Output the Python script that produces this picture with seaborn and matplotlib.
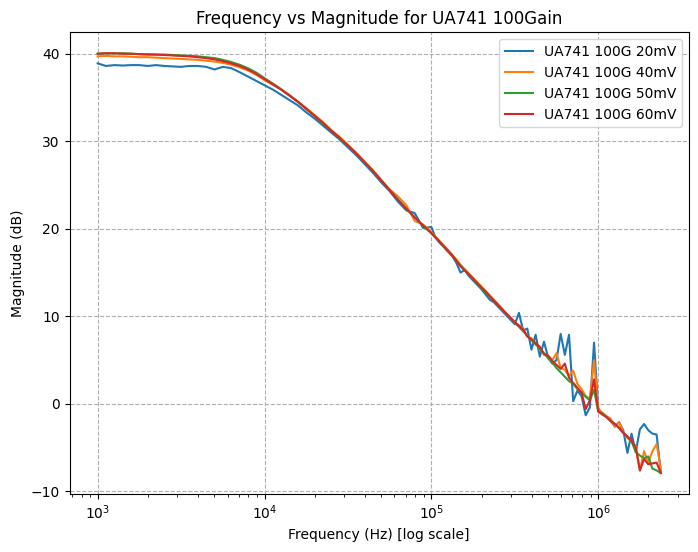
import numpy as np
import pandas as pd
import matplotlib
matplotlib.use("Agg")
import matplotlib.pyplot as plt
import seaborn as sns

# frequency points (Hz), log spaced
freq_low = [1000, 1122, 1259, 1413, 1585, 1778, 1995, 2239, 2512, 2818,
            3162, 3548, 3981, 4467, 5012, 5623, 6310, 7079, 7943, 8913,
            10000, 11220, 12589, 14125, 15849, 17783, 19953, 22387, 25119, 28184,
            31623, 35481, 39811, 44668, 50119, 56234, 63096, 70795, 79433, 89125]
freq_high = [100000, 105925, 112202, 118850, 125893, 133352, 141254, 149624, 158489, 167880,
             177828, 188365, 199526, 211349, 223872, 237137, 251189, 266073, 281838, 298538,
             316228, 334965, 354813, 375837, 398107, 421697, 446684, 473151, 501187, 530884,
             562341, 595662, 630957, 668344, 707946, 749894, 794328, 841395, 891251, 944061,
             1000000, 1059254, 1122018, 1188502, 1258925, 1333521, 1412538, 1496236, 1584893, 1678804,
             1778279, 1883649, 1995262, 2113489, 2238721, 2371374]
freq = freq_low + freq_high

mag_20mV = [38.9, 38.6, 38.7, 38.65, 38.7, 38.7, 38.6, 38.7, 38.6, 38.55,
            38.5, 38.6, 38.6, 38.5, 38.2, 38.5, 38.35, 37.9, 37.4, 36.9,
            36.4, 35.9, 35.3, 34.7, 34.1, 33.3, 32.6, 31.8, 31.0, 30.2,
            29.3, 28.4, 27.4, 26.4, 25.3, 24.3, 23.1, 22.1, 21.8, 20.1,
            20.2, 19.0, 18.4, 17.9, 17.4, 16.9, 16.1, 15.0, 15.3, 14.6,
            14.1, 13.6, 13.1, 12.5, 11.9, 11.6, 11.1, 10.6, 10.1, 9.6,
            9.1, 10.4, 8.4, 8.6, 6.2, 7.9, 5.4, 7.1, 5.3, 4.6,
            5.0, 8.0, 5.6, 7.9, 0.3, 1.5, 0.9, -1.3, -0.4, 7.0,
            -0.5, -1.2, -1.5, -1.9, -2.6, -2.1, -3.0, -5.6, -3.4, -5.5,
            -2.9, -2.3, -3.0, -3.4, -3.5, -7.8]

mag_40mV = [39.7, 39.75, 39.7, 39.7, 39.65, 39.6, 39.6, 39.55, 39.5, 39.45,
            39.4, 39.35, 39.3, 39.2, 39.1, 38.95, 38.75, 38.45, 38.1, 37.6,
            37.0, 36.45, 35.9, 35.25, 34.55, 33.8, 33.0, 32.2, 31.3, 30.5,
            29.6, 28.7, 27.7, 26.7, 25.6, 24.5, 23.7, 22.7, 20.9, 20.5,
            19.6, 19.1, 18.6, 18.1, 17.6, 17.05, 16.5, 15.9, 15.4, 14.9,
            14.4, 13.9, 13.4, 12.9, 12.4, 11.9, 11.4, 10.85, 10.3, 9.8,
            9.3, 9.0, 8.6, 7.7, 7.5, 6.8, 6.5, 5.6, 5.5, 5.0,
            5.8, 4.1, 3.9, 3.2, 3.8, 2.3, 1.7, 0.9, 0.6, 5.0,
            -0.6, -1.0, -1.4, -1.7, -2.6, -2.1, -3.2, -3.9, -4.3, -4.8,
            -7.6, -5.4, -6.7, -5.4, -4.6, -7.4]

mag_50mV = [40.0, 40.05, 40.05, 40.05, 40.0, 39.95, 39.95, 39.9, 39.9, 39.85,
            39.8, 39.75, 39.7, 39.6, 39.5, 39.3, 39.05, 38.75, 38.35, 37.85,
            37.2, 36.6, 35.95, 35.25, 34.5, 33.7, 32.9, 32.05, 31.2, 30.35,
            29.5, 28.55, 27.6, 26.6, 25.5, 24.45, 23.35, 22.3, 21.3, 20.35,
            19.5, 19.0, 18.5, 17.95, 17.45, 16.9, 16.35, 15.8, 15.25, 14.75,
            14.25, 13.75, 13.25, 12.75, 12.25, 11.75, 11.25, 10.75, 10.25, 9.75,
            9.25, 8.8, 8.3, 7.8, 7.3, 6.8, 6.3, 5.8, 5.2, 4.7,
            4.1, 3.6, 3.1, 2.6, 2.3, 1.7, 1.3, 0.8, 0.4, 1.6,
            -0.8, -1.1, -1.5, -1.9, -2.3, -2.8, -3.3, -3.8, -4.3, -5.5,
            -5.9, -6.2, -6.0, -7.4, -7.6, -7.9]

mag_60mV = [40.0, 40.05, 40.05, 40.0, 40.0, 39.95, 39.9, 39.9, 39.85, 39.8,
            39.75, 39.7, 39.6, 39.5, 39.35, 39.15, 38.9, 38.6, 38.2, 37.7,
            37.1, 36.5, 35.9, 35.2, 34.5, 33.7, 32.9, 32.1, 31.2, 30.4,
            29.5, 28.6, 27.6, 26.6, 25.5, 24.4, 23.3, 22.3, 21.3, 20.4,
            19.5, 19.0, 18.5, 18.0, 17.45, 16.95, 16.35, 15.7, 15.25, 14.8,
            14.3, 13.8, 13.3, 12.85, 12.3, 11.8, 11.3, 10.8, 10.3, 9.85,
            9.35, 8.9, 8.5, 7.7, 7.35, 6.95, 6.5, 5.7, 5.5, 4.9,
            4.45, 4.0, 4.6, 3.0, 2.4, 1.85, 1.3, -0.6, 0.4, 2.8,
            -0.9, -1.2, -1.5, -2.0, -2.3, -2.7, -3.3, -3.7, -4.2, -5.0,
            -7.6, -6.3, -6.9, -6.8, -6.7, -7.9]

labels = ["UA741 100G 20mV", "UA741 100G 40mV", "UA741 100G 50mV", "UA741 100G 60mV"]
series = [mag_20mV, mag_40mV, mag_50mV, mag_60mV]
colors = ["#1f77b4", "#ff7f0e", "#2ca02c", "#d62728"]

fig, ax = plt.subplots(figsize=(6.98, 5.52), dpi=100)

for lab, mag, col in zip(labels, series, colors):
    df = pd.DataFrame({"freq": freq, "mag": mag})
    sns.lineplot(data=df, x="freq", y="mag", color=col, label=lab, linewidth=1.5, ax=ax)

ax.set_xscale("log")
ax.set_title("Frequency vs Magnitude for UA741 100Gain")
ax.set_xlabel("Frequency (Hz) [log scale]")
ax.set_ylabel("Magnitude (dB)")
ax.grid(True, which="major", linestyle="--")
ax.legend(loc="upper right")

fig.subplots_adjust(left=0.0996, right=0.987, top=0.9415, bottom=0.105)
plt.savefig("out.png")
